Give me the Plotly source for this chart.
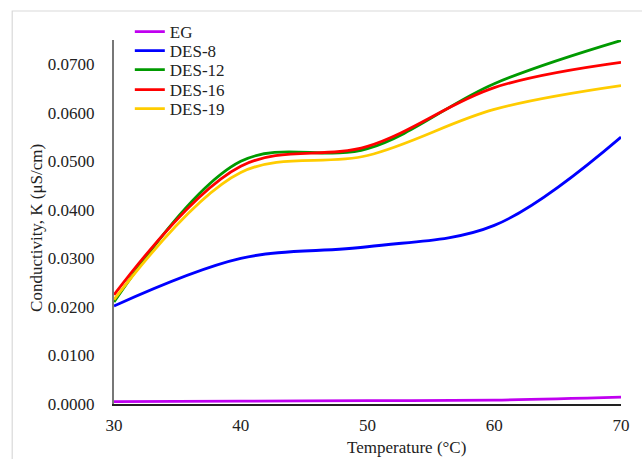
import plotly.graph_objects as go

temperature = [30, 40, 50, 60, 70]
eg = [0.0005, 0.0006, 0.0007, 0.0008, 0.0014]
des8 = [0.0202, 0.0300, 0.0324, 0.0368, 0.0550]
des12 = [0.0210, 0.0500, 0.0526, 0.0660, 0.0749]
des16 = [0.0225, 0.0490, 0.0531, 0.0652, 0.0704]
des19 = [0.0215, 0.0477, 0.0512, 0.0607, 0.0656]

series_names = ["EG", "DES-8", "DES-12", "DES-16", "DES-19"]
series_values = [eg, des8, des12, des16, des19]
series_colors = ["#C000F0", "#0000FF", "#009A00", "#FF0000", "#FFCC00"]

y_ticks = [0.0, 0.01, 0.02, 0.03, 0.04, 0.05, 0.06, 0.07]
y_tick_labels = [f"{v:.4f}" for v in y_ticks]
x_ticks = [30, 40, 50, 60, 70]

FONT = "Liberation Serif, Times New Roman, serif"
TXT = "#222222"

# plot area in pixels: left 114, right 627, top 40, bottom 404
def py(ypix):
    return (404 - ypix) / 364

def px(xpix):
    return (xpix - 114) / 513

legend_rows_y = [32, 51, 70, 90, 109]

fig = go.Figure()
layout_legends = {}
for i, (name, vals, col) in enumerate(zip(series_names, series_values, series_colors)):
    lg = "legend" if i == 0 else f"legend{i + 1}"
    fig.add_trace(go.Scatter(
        x=temperature, y=vals, name=name, mode="lines", legend=lg,
        line=dict(color=col, width=2.8, shape="spline", smoothing=1.0),
    ))
    layout_legends[lg] = dict(
        x=px(130), y=py(legend_rows_y[i]), xanchor="left", yanchor="middle",
        bgcolor="rgba(0,0,0,0)", font=dict(family=FONT, size=17, color=TXT),
    )

fig.update_layout(
    width=642, height=459,
    margin=dict(l=114, r=15, t=40, b=55),
    paper_bgcolor="white", plot_bgcolor="white",
    font=dict(family=FONT, size=17, color=TXT),
    showlegend=True,
    xaxis=dict(range=[30, 70], tickvals=x_ticks, showgrid=False, zeroline=False,
               showline=True, linecolor=TXT, linewidth=1.5, ticks="",
               ticklabelstandoff=5),
    yaxis=dict(range=[0, 0.075], tickvals=y_ticks, ticktext=y_tick_labels,
               showgrid=False, zeroline=False, showline=True, linecolor="#777777",
               linewidth=2, ticks="", ticklabelstandoff=14),
    shapes=[dict(type="rect", xref="paper", yref="paper",
                 x0=px(11), x1=1.2, y0=-0.4, y1=py(11),
                 line=dict(color="#D9D9D9", width=1.2), fillcolor="rgba(0,0,0,0)",
                 layer="below")],
    annotations=[
        dict(text="Temperature (°C)", xref="paper", yref="paper",
             x=px(410), y=py(447), xanchor="center", yanchor="middle",
             showarrow=False, font=dict(family=FONT, size=17, color=TXT)),
        dict(text="Conductivity, K (μS/cm)", xref="paper", yref="paper",
             x=px(36), y=py(228), xanchor="center", yanchor="middle",
             textangle=-90, showarrow=False, font=dict(family=FONT, size=17, color=TXT)),
    ],
    **layout_legends,
)

fig.write_html("out.html", config={"displayModeBar": False},
               post_script="document.body.style.margin='0';document.body.style.overflow='hidden';")
